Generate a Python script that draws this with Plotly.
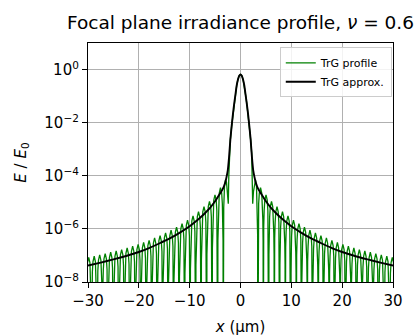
import plotly.graph_objects as go

# ---------------- data ----------------
# TrG approx. (black): x (um) >= 0 and log10(E/E0); curve is symmetric about x = 0
approx_x = [0.0, 0.25, 0.5, 0.75, 1.0, 1.25, 1.5, 1.75, 2.0, 2.25, 2.5, 2.75, 3.0, 3.5, 4.0,
            5.0, 6.0, 7.0, 8.0, 9.0, 10.0, 12.0, 14.0, 16.0, 18.0, 20.0, 22.5, 25.0, 27.5, 30.0]
approx_log10 = [-0.18, -0.23, -0.37, -0.60, -0.95, -1.30, -1.70, -2.15, -2.65, -3.30, -3.80, -4.05, -4.25, -4.50, -4.66,
                -4.96, -5.21, -5.41, -5.59, -5.75, -5.90, -6.15, -6.37, -6.55, -6.72, -6.87, -7.02, -7.15, -7.27, -7.38]

# TrG profile (green): central lobe + first shallow side lobe, x >= 0
core_x = [0.0, 0.25, 0.5, 0.75, 1.0, 1.25, 1.5, 1.75, 2.0, 2.2, 2.3, 2.4, 2.55, 2.75, 2.95, 3.15, 3.3, 3.37]
core_log10 = [-0.18, -0.23, -0.37, -0.60, -0.95, -1.30, -1.70, -2.15, -2.65, -3.15, -4.0, -5.05, -4.60, -4.25, -4.15, -4.40, -5.20, -6.20]

# zeros (nulls) of the oscillating profile, x > 0
null_x = [3.40, 4.48, 5.56, 6.64, 7.72, 8.80, 9.88, 10.96, 12.04, 13.12, 14.20, 15.28, 16.36,
          17.44, 18.52, 19.60, 20.68, 21.76, 22.84, 23.92, 25.00, 26.08, 27.16, 28.24, 29.32, 30.40]
# peak level of each side lobe between consecutive nulls, log10(E/E0)
peak_log10 = [-4.45, -4.72, -4.96, -5.16, -5.35, -5.51, -5.67, -5.80, -5.93, -6.05, -6.15, -6.25, -6.34,
              -6.43, -6.51, -6.58, -6.65, -6.72, -6.78, -6.83, -6.88, -6.93, -6.98, -7.03, -7.07]
# shape of one side lobe: fractional position inside the lobe and level below its peak (decades)
lobe_t = [0.03, 0.08, 0.16, 0.28, 0.50, 0.72, 0.84, 0.92, 0.97]
lobe_drop = [-2.0, -1.2, -0.6, -0.2, 0.0, -0.2, -0.6, -1.2, -2.0]
null_level = 1e-12  # a zero of the profile, drawn below the axis floor

x_ticks = [-30, -20, -10, 0, 10, 20, 30]
x_ticktext = ["\u221230", "\u221220", "\u221210", "0", "10", "20", "30"]
y_ticks = [1e-8, 1e-6, 1e-4, 1e-2, 1e0]
y_ticktext = ["10<sup>\u22128</sup>", "10<sup>\u22126</sup>", "10<sup>\u22124</sup>",
              "10<sup>\u22122</sup>", "10<sup>0</sup>"]

# ---------------- build the symmetric curves ----------------
gx_r, gy_r = [], []
for x, v in zip(core_x, core_log10):
    gx_r.append(x)
    gy_r.append(10 ** v)
for k, pk in enumerate(peak_log10):
    a, b = null_x[k], null_x[k + 1]
    gx_r.append(a)
    gy_r.append(null_level)
    for t, d in zip(lobe_t, lobe_drop):
        gx_r.append(a + t * (b - a))
        gy_r.append(10 ** (pk + d))
gx_r.append(null_x[-1])
gy_r.append(null_level)

green_x = [-x for x in reversed(gx_r[1:])] + gx_r
green_y = list(reversed(gy_r[1:])) + gy_r

black_x = [-x for x in reversed(approx_x[1:])] + approx_x
black_y = [10 ** v for v in reversed(approx_log10[1:])] + [10 ** v for v in approx_log10]

# ---------------- figure ----------------
FONT = "DejaVu Sans"
fig = go.Figure()
fig.add_trace(go.Scatter(x=green_x, y=green_y, mode="lines", name="TrG profile",
                         line=dict(color="#008000", width=1.3)))
fig.add_trace(go.Scatter(x=black_x, y=black_y, mode="lines", name="TrG approx.",
                         line=dict(color="black", width=1.9, shape="spline", smoothing=0.6)))

fig.update_layout(
    width=419, height=336,
    margin=dict(l=88, r=26, t=43, b=54, autoexpand=False),
    paper_bgcolor="white", plot_bgcolor="white",
    font=dict(family=FONT, size=15, color="black"),
    title=dict(text="Focal plane irradiance profile, <i>\u03bd</i> = 0.6",
               x=0.5, xanchor="center", xref="paper",
               y=1 - 23 / 336, yref="container", yanchor="middle",
               font=dict(family=FONT, size=18.5, color="black")),
    legend=dict(x=0.996, y=0.982, xanchor="right", yanchor="top",
                bgcolor="rgba(255,255,255,0.85)", bordercolor="#cccccc", borderwidth=1,
                font=dict(family=FONT, size=11, color="black"),
                itemwidth=30, tracegroupgap=0),
    showlegend=True,
)
fig.update_xaxes(range=[-30, 30], tickmode="array", tickvals=x_ticks, ticktext=x_ticktext,
                 ticks="outside", ticklen=5, tickwidth=1, tickcolor="black",
                 showline=True, linecolor="black", linewidth=1.2, mirror=True,
                 showgrid=True, gridcolor="#b0b0b0", gridwidth=1.2, zeroline=False,
                 automargin=False,
                 title=dict(text="<i>x</i> (\u00b5m)", standoff=21, font=dict(size=15)))
fig.update_yaxes(type="log", range=[-8, 1], tickmode="array", tickvals=y_ticks, ticktext=y_ticktext,
                 ticks="outside", ticklen=5, tickwidth=1, tickcolor="black",
                 showline=True, linecolor="black", linewidth=1.2, mirror=True,
                 showgrid=True, gridcolor="#b0b0b0", gridwidth=1.2, zeroline=False,
                 automargin=False,
                 title=dict(text="<i>E</i> / <i>E</i><sub>0</sub>", standoff=14, font=dict(size=15)))

fig.write_html("out.html")
